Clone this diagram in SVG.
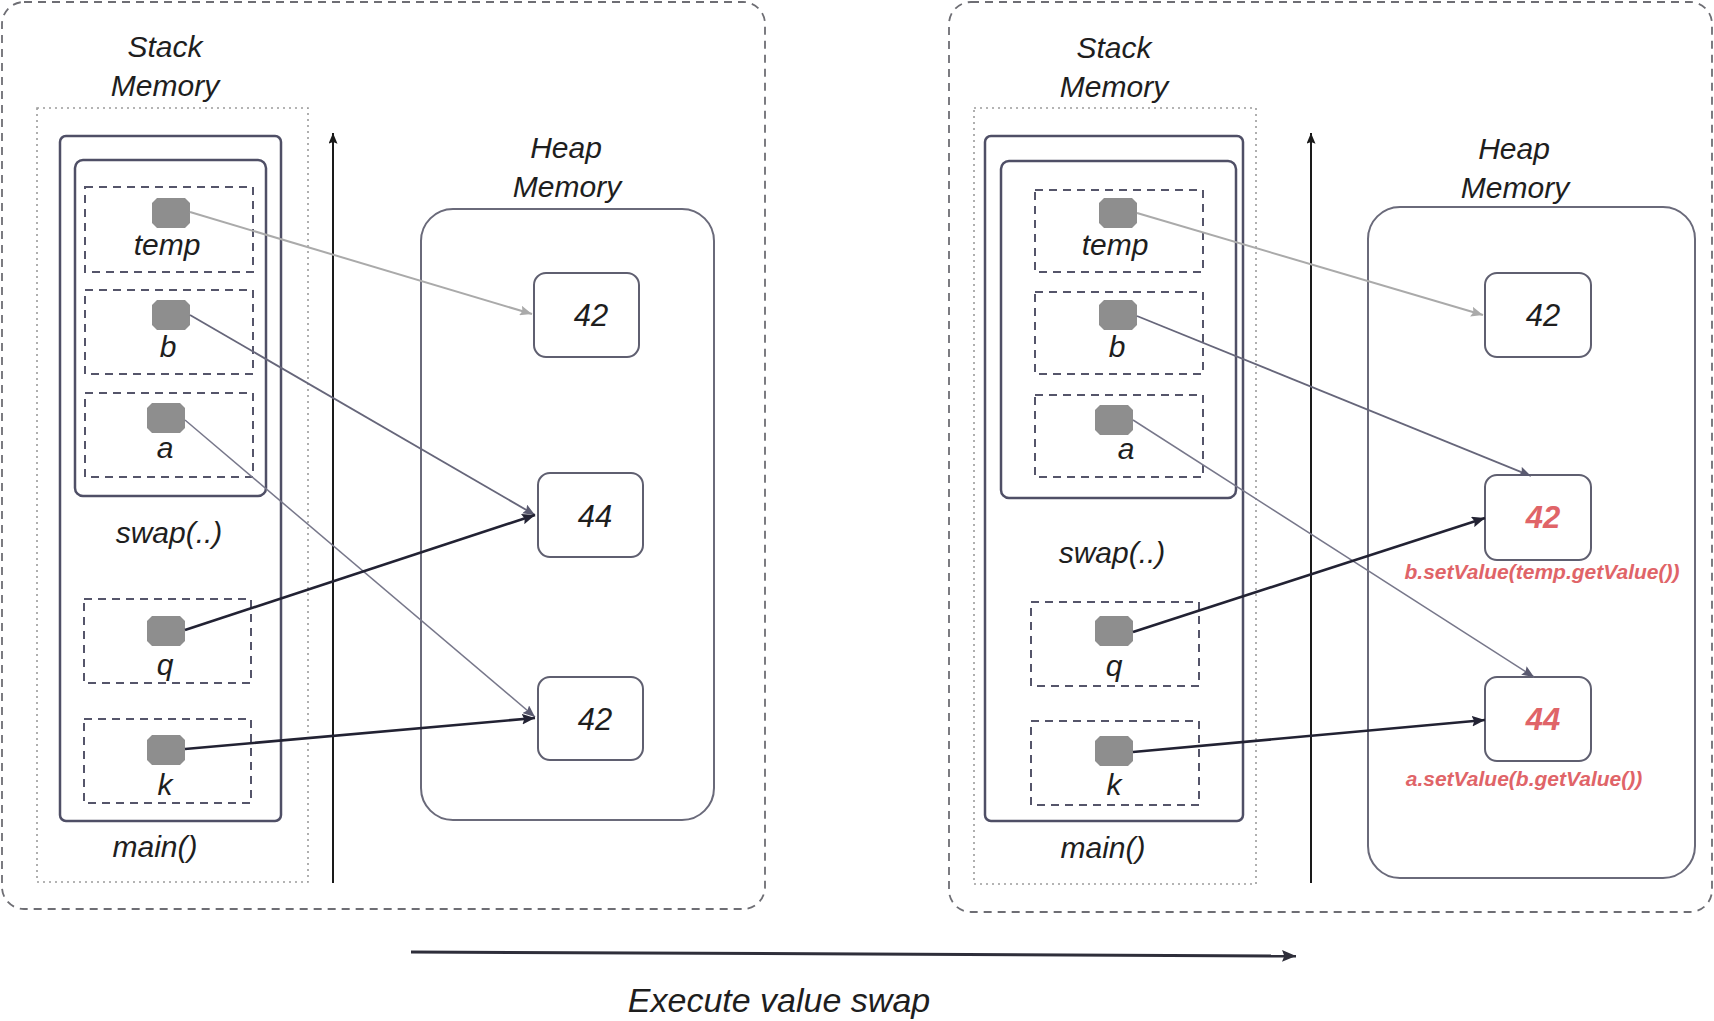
<svg xmlns="http://www.w3.org/2000/svg" width="1714" height="1021" viewBox="0 0 1714 1021">
<style>
  text { font-family: "Liberation Sans", Arial, sans-serif; font-style: italic; fill: #1e1e1e; text-anchor: middle; }
  .lbl { font-size: 30px; }
  .num { font-size: 31px; }
  .red { fill: #e06468; font-weight: bold; }
  .cap { font-size: 21px; }
  .outer { fill: none; stroke: #6e6e74; stroke-width: 1.8; stroke-dasharray: 8 6; }
  .dotted { fill: none; stroke: #9c9c9c; stroke-width: 1.6; stroke-dasharray: 2 4; }
  .frame { fill: none; stroke: #4f4f66; stroke-width: 2.5; }
  .var { fill: none; stroke: #55556a; stroke-width: 2; stroke-dasharray: 8 6; }
  .heap { fill: none; stroke: #6a6a7a; stroke-width: 2; }
  .val { fill: #fff; stroke: #5f5f70; stroke-width: 2; }
  .pin { fill: #8e8e8e; }
  .c-light { fill: none; stroke: #aaaaaa; stroke-width: 2; marker-end: url(#ah-light); }
  .c-mid { fill: none; stroke: #66667a; stroke-width: 1.8; marker-end: url(#ah-mid); }
  .c-soft { fill: none; stroke: #77778a; stroke-width: 1.5; marker-end: url(#ah-mid); }
  .c-dark { fill: none; stroke: #222233; stroke-width: 2.6; marker-end: url(#ah-dark); }
  .axis { fill: none; stroke: #1a1a1a; stroke-width: 2; marker-end: url(#ah-black); }
  .exec { fill: none; stroke: #2e2e3a; stroke-width: 3; marker-end: url(#ah-exec); }
</style>
<defs>
  <path id="pin" d="M-14,-15 H14 L19,-10 V10 L14,15 H-14 L-19,10 V-10 Z"/>
  <marker id="ah-light" markerUnits="userSpaceOnUse" viewBox="0 0 12 10" refX="12" refY="5" markerWidth="12" markerHeight="10" orient="auto"><path d="M0,0 L12,5 L0,10 L2,5 Z" fill="#aaaaaa"/></marker>
  <marker id="ah-mid" markerUnits="userSpaceOnUse" viewBox="0 0 12 10" refX="12" refY="5" markerWidth="12" markerHeight="10" orient="auto"><path d="M0,0 L12,5 L0,10 L2,5 Z" fill="#5a5a70"/></marker>
  <marker id="ah-dark" markerUnits="userSpaceOnUse" viewBox="0 0 12 10" refX="12" refY="5" markerWidth="13" markerHeight="11" orient="auto"><path d="M0,0 L12,5 L0,10 L2,5 Z" fill="#222233"/></marker>
  <marker id="ah-black" markerUnits="userSpaceOnUse" viewBox="0 0 12 10" refX="12" refY="5" markerWidth="12" markerHeight="9" orient="auto"><path d="M0,0 L12,5 L0,10 L2,5 Z" fill="#1a1a1a"/></marker>
  <marker id="ah-exec" markerUnits="userSpaceOnUse" viewBox="0 0 12 10" refX="12" refY="5" markerWidth="14" markerHeight="12" orient="auto"><path d="M0,0 L12,5 L0,10 L2,5 Z" fill="#2e2e3a"/></marker>
</defs>

<!-- ===== Left panel ===== -->
<g id="left-panel">
  <rect class="outer" x="2" y="2" width="763" height="907" rx="22"/>
  <g id="L-stack-title"><text class="lbl" x="165" y="57">Stack</text><text class="lbl" x="165" y="96">Memory</text></g>
  <rect id="L-stack" class="dotted" x="37" y="108" width="271" height="774"/>
  <g id="L-main"><rect class="frame" x="60" y="136" width="221" height="685" rx="6"/><text class="lbl" x="155" y="857">main()</text></g>
  <g id="L-swap"><rect class="frame" x="75" y="160" width="191" height="336" rx="8"/><text class="lbl" x="169" y="543">swap(..)</text></g>
  <g id="L-temp"><rect class="var" x="85" y="187" width="168" height="85"/><use href="#pin" class="pin" x="171" y="213"/><text class="lbl" x="167" y="255">temp</text></g>
  <g id="L-b"><rect class="var" x="85" y="290" width="168" height="84"/><use href="#pin" class="pin" x="171" y="315"/><text class="lbl" x="168" y="357">b</text></g>
  <g id="L-a"><rect class="var" x="85" y="393" width="168" height="84"/><use href="#pin" class="pin" x="166" y="418"/><text class="lbl" x="165" y="458">a</text></g>
  <g id="L-q"><rect class="var" x="84" y="599" width="167" height="84"/><use href="#pin" class="pin" x="166" y="631"/><text class="lbl" x="165" y="675">q</text></g>
  <g id="L-k"><rect class="var" x="84" y="719" width="167" height="84"/><use href="#pin" class="pin" x="166" y="750"/><text class="lbl" x="165" y="795">k</text></g>
  <g id="L-heap-title"><text class="lbl" x="566" y="158">Heap</text><text class="lbl" x="567" y="197">Memory</text></g>
  <rect id="L-heap" class="heap" x="421" y="209" width="293" height="611" rx="32"/>
  <g id="L-v1"><rect class="val" x="534" y="273" width="105" height="84" rx="12"/><text class="num" x="591" y="326">42</text></g>
  <g id="L-v2"><rect class="val" x="538" y="473" width="105" height="84" rx="12"/><text class="num" x="595" y="527">44</text></g>
  <g id="L-v3"><rect class="val" x="538" y="677" width="105" height="83" rx="12"/><text class="num" x="595" y="730">42</text></g>
</g>

<!-- ===== Right panel ===== -->
<g id="right-panel">
  <rect class="outer" x="949" y="2" width="763" height="910" rx="22"/>
  <g id="R-stack-title"><text class="lbl" x="1114" y="58">Stack</text><text class="lbl" x="1114" y="97">Memory</text></g>
  <rect id="R-stack" class="dotted" x="974" y="108" width="282" height="776"/>
  <g id="R-main"><rect class="frame" x="985" y="136" width="258" height="685" rx="6"/><text class="lbl" x="1103" y="858">main()</text></g>
  <g id="R-swap"><rect class="frame" x="1001" y="161" width="235" height="337" rx="8"/><text class="lbl" x="1112" y="563">swap(..)</text></g>
  <g id="R-temp"><rect class="var" x="1035" y="190" width="168" height="82"/><use href="#pin" class="pin" x="1118" y="213"/><text class="lbl" x="1115" y="255">temp</text></g>
  <g id="R-b"><rect class="var" x="1035" y="292" width="168" height="82"/><use href="#pin" class="pin" x="1118" y="315"/><text class="lbl" x="1117" y="357">b</text></g>
  <g id="R-a"><rect class="var" x="1035" y="395" width="168" height="82"/><use href="#pin" class="pin" x="1114" y="420"/><text class="lbl" x="1126" y="459">a</text></g>
  <g id="R-q"><rect class="var" x="1031" y="602" width="168" height="84"/><use href="#pin" class="pin" x="1114" y="631"/><text class="lbl" x="1114" y="676">q</text></g>
  <g id="R-k"><rect class="var" x="1031" y="721" width="168" height="84"/><use href="#pin" class="pin" x="1114" y="751"/><text class="lbl" x="1114" y="795">k</text></g>
  <g id="R-heap-title"><text class="lbl" x="1514" y="159">Heap</text><text class="lbl" x="1515" y="198">Memory</text></g>
  <rect id="R-heap" class="heap" x="1368" y="207" width="327" height="671" rx="32"/>
  <g id="R-v1"><rect class="val" x="1485" y="273" width="106" height="84" rx="12"/><text class="num" x="1543" y="326">42</text></g>
  <g id="R-v2"><rect class="val" x="1485" y="475" width="106" height="85" rx="12"/><text class="num red" x="1543" y="528">42</text><text class="cap red" x="1542" y="579">b.setValue(temp.getValue())</text></g>
  <g id="R-v3"><rect class="val" x="1485" y="677" width="106" height="84" rx="12"/><text class="num red" x="1543" y="730">44</text><text class="cap red" x="1524" y="786">a.setValue(b.getValue())</text></g>
</g>

<!-- ===== Connectors ===== -->
<g id="connectors">
  <line class="axis" x1="333" y1="883" x2="333" y2="133"/>
  <line class="axis" x1="1311" y1="883" x2="1311" y2="133"/>
  <line class="c-light" x1="190" y1="212" x2="532" y2="314"/>
  <line class="c-mid" x1="190" y1="315" x2="535" y2="515"/>
  <line class="c-soft" x1="185" y1="420" x2="535" y2="717"/>
  <line class="c-dark" x1="185" y1="630" x2="535" y2="515"/>
  <line class="c-dark" x1="185" y1="749" x2="535" y2="718"/>
  <line class="c-light" x1="1137" y1="213" x2="1483" y2="315"/>
  <line class="c-mid" x1="1137" y1="316" x2="1531" y2="476"/>
  <line class="c-soft" x1="1133" y1="420" x2="1534" y2="677"/>
  <line class="c-dark" x1="1133" y1="632" x2="1485" y2="518"/>
  <line class="c-dark" x1="1133" y1="752" x2="1485" y2="720"/>
  <line class="exec" x1="411" y1="952" x2="1296" y2="956"/>
</g>
<text id="exec-label" x="779" y="1012" style="font-size:34px">Execute value swap</text>
</svg>
